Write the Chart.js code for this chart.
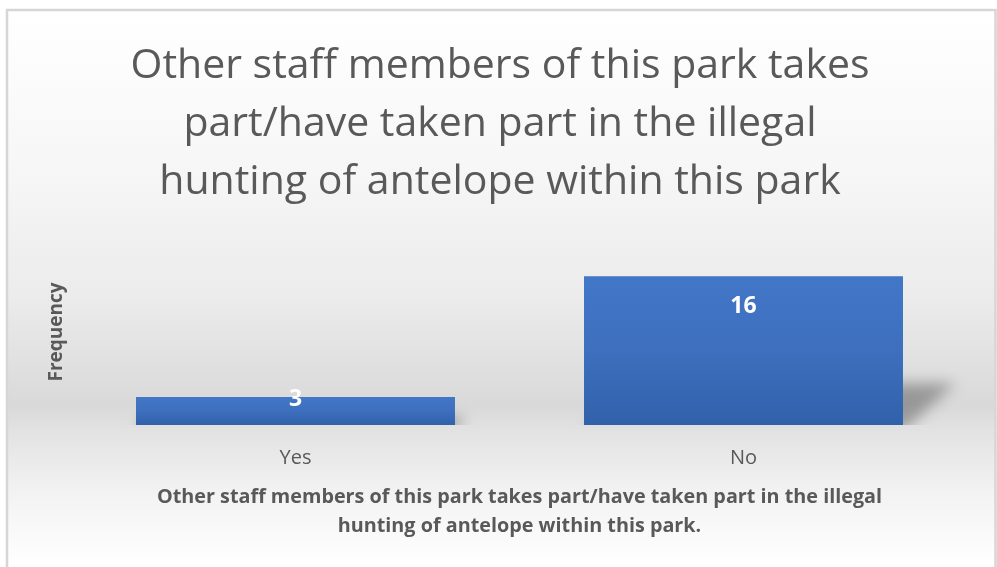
<!DOCTYPE html>
<html>
<head>
<meta charset="utf-8">
<title>Staff involvement in illegal antelope hunting</title>
<script src="https://cdn.jsdelivr.net/npm/chart.js@4/dist/chart.umd.min.js"></script>
<style>
  html, body { margin: 0; padding: 0; background: #fff; }
  #wrap { width: 997px; height: 567px; }
</style>
</head>
<body>
<div id="wrap"><canvas id="barChart" width="997" height="567"></canvas></div>
<script>
var categories = ['Yes', 'No'];
var frequency = [3, 16];
var yMax = 20;

var titleLines = [
    'Other staff members of this park takes',
    'part/have taken part in the illegal',
    'hunting of antelope within this park'
];
var xTitleLines = [
    'Other staff members of this park takes part/have taken part in the illegal',
    'hunting of antelope within this park.'
];
var yTitle = 'Frequency';

var FONT = '"Open Sans", Lato, sans-serif';
var GREY = '#595959';

// panel background: soft vertical grey gradient with a thin frame
var panelBackground = {
    id: 'panelBackground',
    beforeDraw: function(chart) {
        var ctx = chart.ctx;
        ctx.save();
        ctx.fillStyle = '#ffffff';
        ctx.fillRect(0, 0, chart.width, chart.height);
        var g = ctx.createLinearGradient(0, 10, 0, 567);
        g.addColorStop(0, '#ffffff');
        g.addColorStop(0.3, '#f6f6f6');
        g.addColorStop(0.52, '#ebebeb');
        g.addColorStop(0.71, '#d9d9d9');
        g.addColorStop(0.76, '#e3e3e3');
        g.addColorStop(0.87, '#f3f3f3');
        g.addColorStop(1, '#ffffff');
        ctx.fillStyle = g;
        ctx.fillRect(7, 10, 988, 560);
        ctx.strokeStyle = '#d6d6d6';
        ctx.lineWidth = 2.5;
        ctx.strokeRect(7, 10, 988.5, 580);
        ctx.restore();
    }
};

// slanted floor shadow behind each bar
var barShadow = {
    id: 'barShadow',
    beforeDatasetsDraw: function(chart) {
        var ctx = chart.ctx;
        var area = chart.chartArea;
        chart.getDatasetMeta(0).data.forEach(function(bar) {
            var left = bar.x - bar.width / 2;
            var right = bar.x + bar.width / 2;
            var h = bar.base - bar.y;
            var dx = h * 0.35, dy = h * 0.28;
            ctx.save();
            ctx.beginPath();
            ctx.rect(area.left, area.top, chart.width - area.left, bar.base - area.top);
            ctx.clip();
            ctx.filter = 'blur(7px)';
            ctx.fillStyle = 'rgba(0, 0, 0, 0.3)';
            ctx.beginPath();
            ctx.moveTo(left, bar.base + 6);
            ctx.lineTo(right, bar.base + 6);
            ctx.lineTo(right + dx, bar.base - dy);
            ctx.lineTo(left + dx, bar.base - dy);
            ctx.closePath();
            ctx.fill();
            ctx.restore();
        });
    }
};

// value labels near the top of each bar
var valueLabels = {
    id: 'valueLabels',
    afterDatasetsDraw: function(chart) {
        var ctx = chart.ctx;
        var values = chart.data.datasets[0].data;
        ctx.save();
        ctx.font = 'bold 23px ' + FONT;
        ctx.fillStyle = '#ffffff';
        ctx.textAlign = 'center';
        ctx.textBaseline = 'middle';
        chart.getDatasetMeta(0).data.forEach(function(bar, i) {
            var y = Math.min(bar.y + 30, bar.base - 26);
            ctx.fillText(String(values[i]), bar.x, y);
        });
        ctx.restore();
    }
};

function barGradient(context) {
    var chart = context.chart;
    var y = chart.scales && chart.scales.y;
    if (!chart.chartArea || !y) return '#3d6fbf';
    var top = y.getPixelForValue(context.raw);
    var bottom = y.getPixelForValue(0);
    if (!isFinite(top) || !isFinite(bottom) || top === bottom) return '#3d6fbf';
    var g = chart.ctx.createLinearGradient(0, top, 0, bottom);
    g.addColorStop(0, '#4276c7');
    g.addColorStop(0.5, '#3d6fbe');
    g.addColorStop(1, '#3161aa');
    return g;
}

var ctx = document.getElementById('barChart').getContext('2d');
var barChart = new Chart(ctx, {
    type: 'bar',
    data: {
        labels: categories,
        datasets: [{
            label: yTitle,
            data: frequency,
            backgroundColor: barGradient,
            borderWidth: 0,
            barPercentage: 1,
            categoryPercentage: 0.712
        }]
    },
    options: {
        responsive: false,
        animation: false,
        layout: {
            padding: { left: 32.5, right: 29.5, top: 0, bottom: 0 }
        },
        plugins: {
            legend: { display: false },
            tooltip: { enabled: false },
            title: {
                display: true,
                text: titleLines,
                color: GREY,
                font: { family: FONT, size: 41, weight: 'normal', lineHeight: 58 / 41 },
                padding: { top: 37, bottom: 28 }
            }
        },
        scales: {
            x: {
                grid: { display: false, drawTicks: false },
                border: { display: false },
                ticks: {
                    color: GREY,
                    padding: 21,
                    font: { family: FONT, size: 20, lineHeight: 1.2 }
                },
                title: {
                    display: true,
                    text: xTitleLines,
                    color: GREY,
                    font: { family: FONT, size: 19.8, weight: 'bold', lineHeight: 29 / 19.8 },
                    padding: { top: 12.5, bottom: 26.5 }
                },
                // fixed band under the plot for labels and the two-line title
                afterFit: function(scale) {
                    scale.height = 142;
                }
            },
            y: {
                min: 0,
                max: yMax,
                grid: { display: false, drawTicks: false },
                border: { display: false },
                ticks: { display: false },
                title: {
                    display: true,
                    text: yTitle,
                    color: GREY,
                    font: { family: FONT, size: 19, weight: 'bold', lineHeight: 1.2 },
                    padding: { top: 13.1, bottom: 3.1 }
                }
            }
        }
    },
    plugins: [panelBackground, barShadow, valueLabels]
});
</script>
</body>
</html>
